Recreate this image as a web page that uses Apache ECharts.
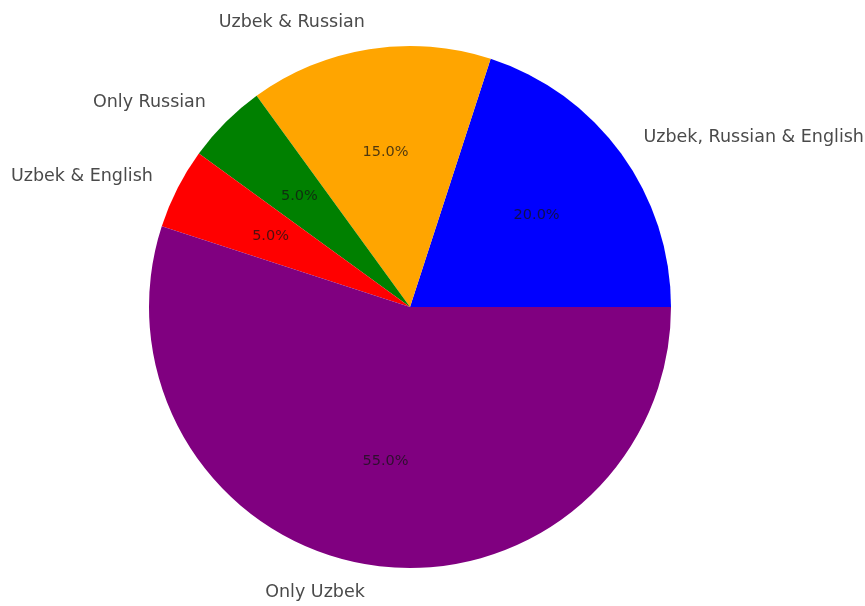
<!DOCTYPE html>
<html>
<head>
<meta charset="utf-8">
<script src="https://cdn.jsdelivr.net/npm/echarts@6/dist/echarts.min.js"></script>
<style>
  html, body { margin: 0; padding: 0; background: #fff; }
  #chart { width: 865px; height: 606px; }
</style>
</head>
<body>
<div id="chart"></div>
<script>
// Languages spoken, share of respondents (%)
const categories = ['Uzbek, Russian & English', 'Uzbek & Russian', 'Only Russian', 'Uzbek & English', 'Only Uzbek'];
const shares = [20, 15, 5, 5, 55];
const sliceColors = ['#0000ff', '#ffa500', '#008000', '#ff0000', '#800080'];

const R = 261;            // pie radius in px
const CENTER = [410, 307];

const pieData = categories.map((name, i) => ({
  name: name,
  value: shares[i],
  itemStyle: { color: sliceColors[i] }
}));

const chart = echarts.init(document.getElementById('chart'), null, { renderer: 'canvas' });
chart.setOption({
  backgroundColor: '#ffffff',
  animation: false,
  series: [
    {
      // slices with category names outside
      type: 'pie',
      center: CENTER,
      radius: [0, R],
      startAngle: 0,
      clockwise: false,
      avoidLabelOverlap: false,
      silent: true,
      itemStyle: { borderWidth: 0 },
      label: {
        show: true,
        position: 'outside',
        formatter: '{b}',
        fontFamily: 'DejaVu Sans',
        fontSize: 17.5,
        color: '#4a4a4a',
        distanceToLabelLine: 0
      },
      labelLine: { show: false, length: R * 0.1 + 1.5, length2: 0 },
      emphasis: { disabled: true },
      data: pieData
    },
    {
      // percentage labels inside each slice
      type: 'pie',
      center: CENTER,
      radius: [Math.round(R * 0.2) - 6, R],
      startAngle: 0,
      clockwise: false,
      avoidLabelOverlap: false,
      silent: true,
      z: 3,
      itemStyle: { color: 'rgba(0,0,0,0)', borderWidth: 0 },
      label: {
        show: true,
        position: 'inside',
        formatter: p => p.value.toFixed(1) + '%',
        fontFamily: 'DejaVu Sans',
        fontSize: 14.5,
        color: 'rgba(20,20,20,0.75)'
      },
      labelLine: { show: false },
      emphasis: { disabled: true },
      data: categories.map((name, i) => ({ name: name, value: shares[i] }))
    }
  ]
});
</script>
</body>
</html>
